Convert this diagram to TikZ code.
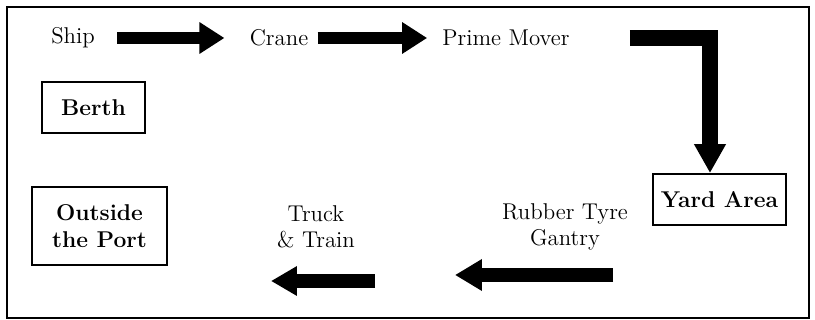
\documentclass[tikz,border=0pt]{standalone}
\usetikzlibrary{arrows.meta}

\tikzset{
	lbl/.style={inner sep=0pt, align=center, font=\fontsize{13}{15}\selectfont},
	boxed/.style={draw, line width=1.1pt, align=center, inner sep=0pt, font=\fontsize{13}{15}\selectfont\bfseries},
	fatarrow/.style={line width=#1, line join=miter, -{Triangle[length=0.5cm,width=0.6cm]}},
	fatarrow/.default=0.23cm
}

\begin{document}
\begin{tikzpicture}[x=0.02cm,y=-0.02cm]

	\useasboundingbox (0,0) rectangle (815,320);
	\draw[line width=1.2pt] (7,7) rectangle (809,318);

	% top row
	\node[lbl] (ship) at (73,38) {Ship};
	\node[lbl] (crane) at (279,38) {Crane};
	\node[lbl] (mover) at (506,38) {Prime Mover};

	% boxes
	\node[boxed, minimum width=2.06cm, minimum height=1.02cm] (berth) at (93.5,107.5) {Berth};
	\node[boxed, minimum width=2.66cm, minimum height=1.02cm] (yard) at (719.5,199.5) {Yard Area};
	\node[boxed, minimum width=2.7cm, minimum height=1.56cm] (outside) at (99.5,226) {Outside\\the Port};

	% bottom row
	\node[lbl] (gantry) at (565,227) {Rubber Tyre\\Gantry};
	\node[lbl] (truck) at (316,227) {Truck\\\& Train};

	\coordinate (g1) at (613,275);
	\coordinate (g2) at (455,275);
	\coordinate (t1) at (375,281);
	\coordinate (t2) at (271,281);

	\draw[fatarrow, shorten <=0.44cm, shorten >=0.5cm] (ship) -- (crane);
	\draw[fatarrow, shorten <=0.18cm, shorten >=0.3cm] (crane) -- (mover);
	\draw[fatarrow=0.31cm, shorten <=1.2cm, -{Triangle[length=0.58cm,width=0.6cm]}] (mover.east) -| ([xshift=-0.19cm]yard.north);
	\draw[fatarrow=0.28cm, -{Triangle[length=0.54cm,width=0.6cm]}] (g1) -- (g2);
	\draw[fatarrow=0.28cm, -{Triangle[length=0.52cm,width=0.56cm]}] (t1) -- (t2);
\end{tikzpicture}
\end{document}
